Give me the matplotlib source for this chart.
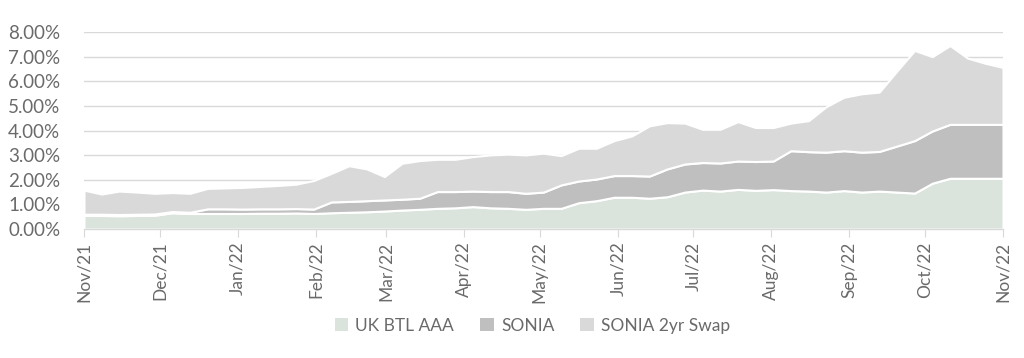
import matplotlib
matplotlib.use("Agg")
import matplotlib.pyplot as plt
import matplotlib.dates as mdates
from matplotlib.ticker import FuncFormatter
from matplotlib.patches import Patch
import pandas as pd

# weekly observations, Nov 2021 - Nov 2022
dates = pd.date_range("2021-11-01", "2022-11-01", periods=53)

labels = ["UK BTL AAA", "SONIA", "SONIA 2yr Swap"]

btl_aaa = [0.55, 0.55, 0.54, 0.55, 0.56, 0.66, 0.63, 0.63, 0.63, 0.63,
           0.64, 0.64, 0.65, 0.63, 0.66, 0.68, 0.70, 0.73, 0.77, 0.80,
           0.84, 0.86, 0.91, 0.86, 0.84, 0.80, 0.84, 0.84, 1.07, 1.15,
           1.29, 1.29, 1.25, 1.31, 1.50, 1.58, 1.54, 1.61, 1.57, 1.60,
           1.56, 1.54, 1.50, 1.56, 1.50, 1.54, 1.50, 1.46, 1.86, 2.06,
           2.06, 2.06, 2.06]

sonia = [0.05, 0.05, 0.05, 0.05, 0.05, 0.05, 0.05, 0.19, 0.19, 0.18,
         0.18, 0.18, 0.18, 0.18, 0.44, 0.44, 0.45, 0.45, 0.44, 0.45,
         0.68, 0.66, 0.63, 0.66, 0.68, 0.65, 0.66, 0.95, 0.88, 0.88,
         0.88, 0.88, 0.90, 1.13, 1.14, 1.12, 1.14, 1.15, 1.17, 1.16,
         1.62, 1.60, 1.62, 1.62, 1.62, 1.61, 1.87, 2.13, 2.12, 2.19,
         2.19, 2.19, 2.19]

sonia_2yr_swap = [0.98, 0.82, 0.95, 0.90, 0.84, 0.77, 0.77, 0.83, 0.85, 0.88,
                  0.91, 0.95, 0.99, 1.16, 1.16, 1.45, 1.29, 0.95, 1.46, 1.53,
                  1.31, 1.31, 1.40, 1.49, 1.52, 1.56, 1.58, 1.19, 1.33, 1.25,
                  1.42, 1.61, 2.04, 1.88, 1.66, 1.35, 1.37, 1.60, 1.38, 1.36,
                  1.12, 1.26, 1.85, 2.17, 2.37, 2.41, 3.05, 3.66, 3.02, 3.20,
                  2.69, 2.48, 2.31]

colors = ["#dbe4dc", "#bfbfbf", "#d9d9d9"]
text_col = "#6a6a6a"

plt.rcParams["font.family"] = ["Lato", "DejaVu Sans"]

fig = plt.figure(figsize=(10.24, 3.58), dpi=100)
ax = fig.add_axes([0.082, 0.3603, 0.8975, 0.5503])

ax.stackplot(dates, btl_aaa, sonia, sonia_2yr_swap, colors=colors,
             edgecolor="white", linewidth=1.5, zorder=2)

ax.set_ylim(0, 8)
ax.set_yticks(range(0, 9))
ax.yaxis.set_major_formatter(FuncFormatter(lambda v, p: f"{v:.2f}%"))
ax.set_xlim(pd.Timestamp("2021-11-01"), pd.Timestamp("2022-11-01"))
ax.xaxis.set_major_locator(mdates.MonthLocator())
ax.xaxis.set_major_formatter(mdates.DateFormatter("%b/%y"))

ax.grid(axis="y", color="#d9d9d9", linewidth=1, zorder=0)
ax.set_axisbelow(True)
for s in ["top", "right", "left"]:
    ax.spines[s].set_visible(False)
ax.spines["bottom"].set_color("#d9d9d9")
ax.spines["bottom"].set_linewidth(1)

ax.tick_params(axis="y", length=0, labelsize=13.5, labelcolor=text_col, pad=17)
ax.tick_params(axis="x", length=6, color="#d9d9d9", labelsize=12.5,
               labelcolor=text_col, labelrotation=90, pad=3)

handles = [Patch(facecolor=c, edgecolor="none") for c in colors]
fig.legend(handles, labels, loc="center", bbox_to_anchor=(0.52, 0.09),
           ncol=3, frameon=False, fontsize=12.5, labelcolor=text_col,
           handlelength=0.8, handleheight=0.8, handletextpad=0.4,
           columnspacing=1.5)

fig.savefig("out.png", dpi=100)
